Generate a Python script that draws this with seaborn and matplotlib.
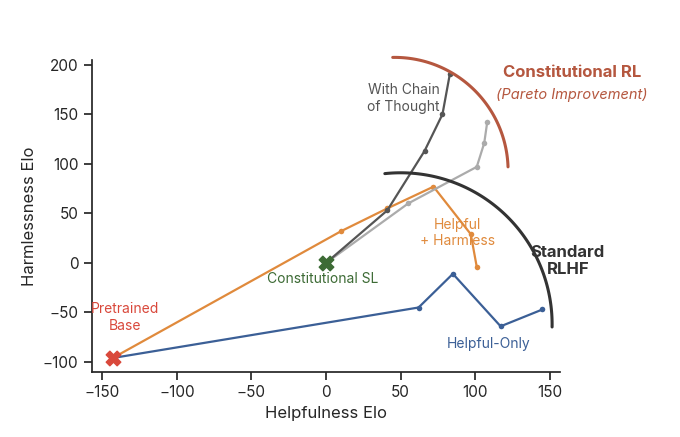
import numpy as np
import pandas as pd
import matplotlib
matplotlib.use("Agg")
import matplotlib.pyplot as plt
import seaborn as sns

sns.set_theme(style="ticks")
plt.rcParams["font.family"] = ["Inter", "DejaVu Sans"]

# Data
helpful_x = [-143, 62, 85, 117, 145]
helpful_y = [-96, -45, -11, -64, -47]
hh_x = [-143, 10, 41, 72, 97, 101]
hh_y = [-96, 32, 55, 77, 29, -4]
crl_x = [0, 55, 101, 106, 108]
crl_y = [0, 60, 97, 121, 142]
cot_x = [0, 41, 66, 78, 83]
cot_y = [0, 53, 113, 150, 191]

df = pd.concat([
    pd.DataFrame({"x": helpful_x, "y": helpful_y, "s": "Helpful-Only"}),
    pd.DataFrame({"x": hh_x, "y": hh_y, "s": "Helpful + Harmless"}),
    pd.DataFrame({"x": crl_x, "y": crl_y, "s": "Constitutional RL"}),
    pd.DataFrame({"x": cot_x, "y": cot_y, "s": "CoT"}),
])
palette = {"Helpful-Only": "#3B5F96", "Helpful + Harmless": "#E08A3C",
           "Constitutional RL": "#ABABAB", "CoT": "#555555"}

fig = plt.figure(figsize=(6.8, 4.37), dpi=100)
ax = fig.add_axes([0.135, 0.149, 0.689, 0.714])
sns.lineplot(data=df, x="x", y="y", hue="s", palette=palette, marker="o",
             markersize=4, markeredgewidth=0, sort=False, estimator=None,
             linewidth=1.6, legend=False, ax=ax)

ax.scatter([-143], [-96], marker="X", s=110, color="#D9483B", zorder=5)
ax.scatter([0], [0], marker="X", s=110, color="#3D6B35", zorder=5)

# frontier arcs
t = np.radians(np.linspace(96, -1, 100))
ax.plot(50 + 101.5 * np.cos(t), -62 + 153 * np.sin(t), color="#333333", lw=2.2, clip_on=False)
t = np.radians(np.linspace(91, 2, 100))
ax.plot(46 + 76 * np.cos(t), 93 + 114.5 * np.sin(t), color="#B5573F", lw=2.2, clip_on=False)

ax.set_xlim(-157, 157)
ax.set_ylim(-110, 205)
ax.set_xticks([-150, -100, -50, 0, 50, 100, 150])
ax.set_yticks([-100, -50, 0, 50, 100, 150, 200])
ax.set_xlabel("Helpfulness Elo")
ax.set_ylabel("Harmlessness Elo")
sns.despine(ax=ax)

ax.text(-135, -55, "Pretrained\nBase", color="#D9483B", ha="center", va="center", fontsize=10)
ax.text(-2, -16, "Constitutional SL", color="#3D6B35", ha="center", va="center", fontsize=10)
ax.text(88, 30, "Helpful\n+ Harmless", color="#E08A3C", ha="center", va="center", fontsize=10)
ax.text(109, -82, "Helpful-Only", color="#3B5F96", ha="center", va="center", fontsize=10)
ax.text(52, 166, "With Chain\nof Thought", color="#555555", ha="center", va="center", fontsize=10)
ax.text(165, 192, "Constitutional RL", color="#B5573F", ha="center", va="center",
        fontsize=12, fontweight="bold", clip_on=False)
ax.text(165, 170, "(Pareto Improvement)", color="#B5573F", ha="center", va="center",
        fontsize=10.5, style="italic", clip_on=False)
ax.text(162, 2, "Standard\nRLHF", color="#333333", ha="center", va="center",
        fontsize=12, fontweight="bold", clip_on=False)

fig.savefig("out.png", dpi=100)
